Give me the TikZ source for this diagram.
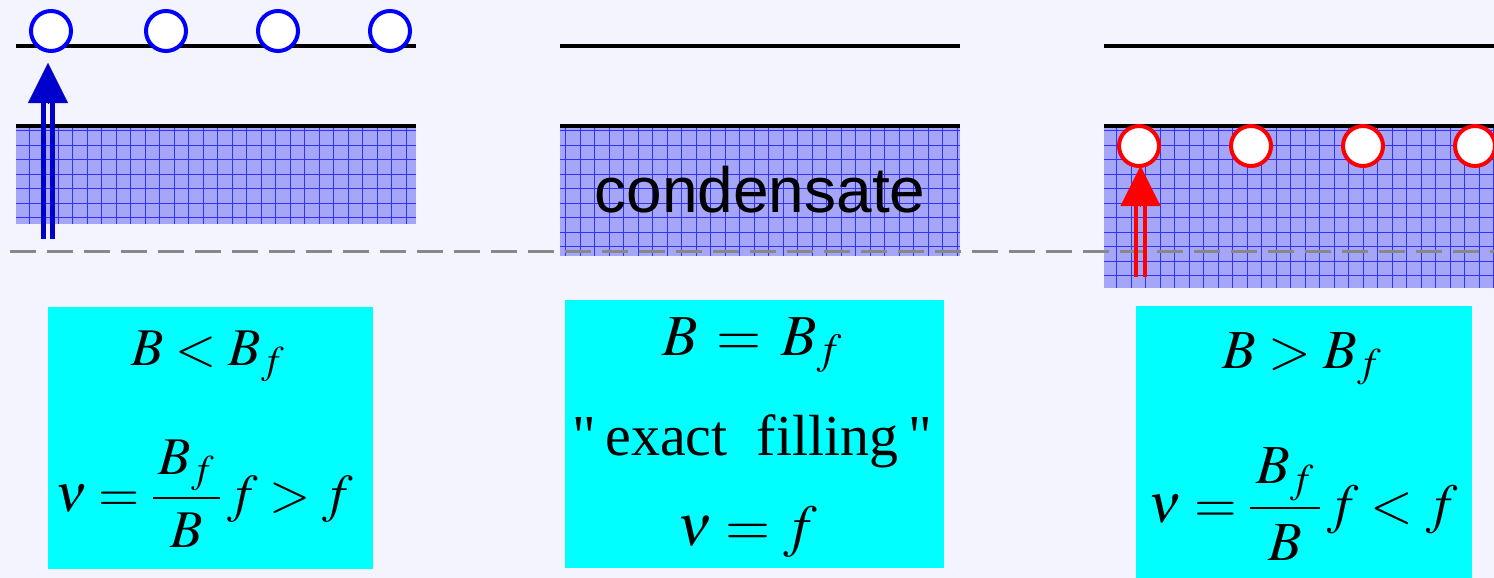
\documentclass[tikz,border=0pt]{standalone}
\usepackage{amsmath}
\usepackage{mathptmx}
\usepackage[no-math]{fontspec}
\setmainfont{Liberation Serif}[Ligatures=TeXOff]
\newfontfamily\condfont{Liberation Sans}
\usepackage{xcolor}
\usepackage{tikz}
\usetikzlibrary{arrows.meta}
\definecolor{bgLav}{RGB}{244,244,254}
\definecolor{condBlue}{RGB}{166,166,248}
\definecolor{eBlue}{RGB}{0,0,205}
\definecolor{gapGray}{RGB}{136,136,136}
\definecolor{infoCyan}{RGB}{0,255,255}
\tikzset{
  kLevel/.style={line width=4.5pt,black},
  kBand/.style={fill=condBlue},
  kGrid/.style={draw=blue!70!condBlue,line width=.6pt,xstep=14.5pt,ystep=14.5pt},
  kRing/.style={circle,minimum size=40pt,inner sep=0pt,line width=4pt,fill=white},
  kRingE/.style={kRing,draw=blue},
  kRingH/.style={kRing,draw=red},
  kPipe/.style={line width=4.5pt},
  kHead/.style={line width=.1pt,-{Triangle[length=40pt,width=40pt]}},
  kDash/.style={draw=gapGray,line width=3pt,dash pattern=on 26pt off 11pt},
  kLabel/.style={inner sep=0pt,font=\fontsize{64}{76}\selectfont\condfont},
  kInfo/.style={fill=infoCyan,inner sep=0pt},
  kMath/.style={inner sep=0pt,font=\fontsize{53}{64}\selectfont},
  kMathL/.style={inner sep=0pt,font=\fontsize{58}{68}\selectfont},
  kMathM/.style={inner sep=0pt,font=\fontsize{55}{66}\selectfont},
}

\begin{document}
\begin{tikzpicture}[x=1pt,y=-1pt]
\path[use as bounding box] (0,0) rectangle (1494,578);
\fill[bgLav] (0,0) rectangle (1494,578);
\clip (0,0) rectangle (1494,578);

% condensate bands
\fill[kBand] (16,127) rectangle (416,224);
\draw[kGrid] (16,127) grid (416,224);
\fill[kBand] (560,127) rectangle (960,256);
\draw[kGrid] (560,127) grid (960,256);
\fill[kBand] (1104,127) rectangle (1494,288);
\draw[kGrid] (1104,127) grid (1494,288);

% levels
\draw[kLevel] (16,46) -- (416,46);
\draw[kLevel] (16,126) -- (416,126);
\draw[kLevel] (560,46) -- (960,46);
\draw[kLevel] (560,126) -- (960,126);
\draw[kLevel] (1104,46) -- (1494,46);
\draw[kLevel] (1104,126) -- (1494,126);

% reference level
\coordinate (gl) at (10,251);
\coordinate (gr) at (1494,251);
\draw[kDash] (gl) -- (gr);

\node[kLabel,anchor=base] (cond) at (760,212) {condensate};

% electrons
\node[kRingE] (e1) at (51,31) {};
\node[kRingE] (e2) at (166,31) {};
\node[kRingE] (e3) at (278,31) {};
\node[kRingE] (e4) at (390,31) {};

% holes
\node[kRingH] (h1) at (1139,146) {};
\node[kRingH] (h2) at (1251,146) {};
\node[kRingH] (h3) at (1363,146) {};
\node[kRingH] (h4) at (1475,146) {};

% excitation arrows
\coordinate (eb) at (48,239);
\coordinate (eh) at (48,103);
\coordinate (et) at (48,63);
\draw[kPipe,eBlue] ([xshift=-4.5pt]eb) -- ([xshift=-4.5pt]eh);
\draw[kPipe,eBlue] ([xshift=4.5pt]eb) -- ([xshift=4.5pt]eh);
\draw[kHead,eBlue,fill=eBlue] (eh) -- (et);

\coordinate (hb) at (1140.5,277);
\coordinate (hh) at (1140.5,206);
\coordinate (ht) at (1140.5,166);
\draw[kPipe,red] ([xshift=-4.5pt]hb) -- ([xshift=-4.5pt]hh);
\draw[kPipe,red] ([xshift=4.5pt]hb) -- ([xshift=4.5pt]hh);
\draw[kHead,red,fill=red] (hh) -- (ht);

% info boxes
\node[kInfo,minimum width=325,minimum height=262] (lbox) at (210.5,438) {};
\node[kMath,anchor=base] (lcond) at (208,365) {$B<B_f$};
\node[kMath] (lnu) at (204,494)
  {$\nu=\dfrac{\,B_f\rule[-.3em]{0pt}{0pt}\,}{\rule{0pt}{.8em}B}\,f>f$};

\node[kInfo,minimum width=379,minimum height=268] (mbox) at (754.5,434) {};
\node[kMathL,anchor=base] (mcond) at (752,355) {$B\,=\,B_f$};
\node[kMathL,anchor=base] (mtext) at (752,455) {"\,exact\ \ filling\,"};
\node[kMathL,anchor=base] (mnu) at (747,545) {$\nu=f$};

\node[kInfo,minimum width=336,minimum height=290] (rbox) at (1304,451) {};
\node[kMathM,anchor=base] (rcond) at (1302,368) {$B>B_f$};
\node[kMathM] (rnu) at (1303,504)
  {$\nu=\dfrac{\,B_f\rule[-.3em]{0pt}{0pt}\,}{\rule{0pt}{.8em}B}\,f<f$};
\end{tikzpicture}
\end{document}
